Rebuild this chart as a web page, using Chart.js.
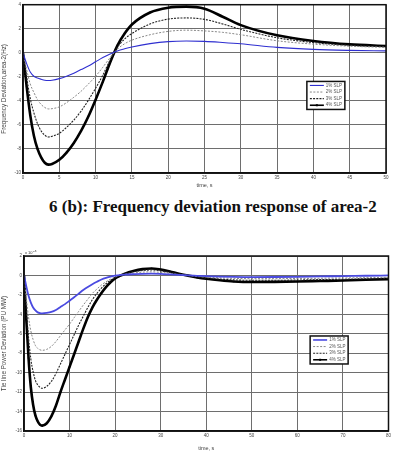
<!DOCTYPE html>
<html>
<head>
<meta charset="utf-8">
<script src="https://cdn.jsdelivr.net/npm/chart.js@4"></script>
<style>
  html, body { margin: 0; padding: 0; background: #fff; }
  body { width: 393px; height: 453px; position: relative; overflow: hidden; }
  .box { position: absolute; left: 0; width: 393px; }
  #caption { position: absolute; left: 49px; top: 197px; font: bold 17px "Liberation Serif", serif; color: #111; white-space: nowrap; }
</style>
</head>
<body>
<div class="box" style="top:0;height:190px"><canvas id="grafico1"></canvas></div>
<div id="caption">6 (b): Frequency deviation response of area-2</div>
<div class="box" style="top:250px;height:203px"><canvas id="grafico2"></canvas></div>
<script>
// Figure 6(b) – frequency deviation of area-2
const tTop = [0, 0.5, 1, 1.5, 2, 2.5, 3, 3.5, 4, 5, 6, 7, 8, 9, 10, 11, 12, 13, 14, 15, 17.5, 20, 22.5, 25, 27.5, 30, 35, 40, 45, 50];
const freq1 = [0, -0.9, -1.6, -1.95, -2.1, -2.2, -2.28, -2.3, -2.28, -2.15, -1.95, -1.7, -1.4, -1.1, -0.75, -0.4, -0.1, 0.15, 0.33, 0.48, 0.76, 0.93, 0.98, 0.95, 0.86, 0.75, 0.45, 0.28, 0.2, 0.16];
const freq2 = [0, -1.4, -2.6, -3.3, -3.9, -4.3, -4.55, -4.67, -4.65, -4.5, -4.15, -3.7, -3.2, -2.6, -1.95, -1.2, -0.4, 0.3, 0.75, 1.05, 1.5, 1.78, 1.88, 1.82, 1.7, 1.5, 1.0, 0.72, 0.55, 0.45];
const freq3 = [0, -2.0, -3.8, -5.0, -5.9, -6.5, -6.85, -7.0, -6.95, -6.7, -6.2, -5.6, -4.85, -3.95, -2.95, -1.85, -0.6, 0.45, 1.15, 1.6, 2.4, 2.8, 2.9, 2.78, 2.4, 1.95, 1.25, 0.85, 0.62, 0.5];
const freq4 = [0, -2.8, -5.2, -6.9, -8.0, -8.7, -9.15, -9.3, -9.25, -8.9, -8.3, -7.5, -6.5, -5.3, -3.9, -2.4, -0.8, 0.6, 1.6, 2.35, 3.35, 3.75, 3.84, 3.67, 3.0, 2.3, 1.45, 0.98, 0.7, 0.57];
const xTicksTop = [0, 5, 10, 15, 20, 25, 30, 35, 40, 45, 50];
const yTicksTop = [4, 2, 0, -2, -4, -6, -8, -10];

// Tie line power deviation (x 10^-3)
const tBot = [0, 0.5, 1, 1.5, 2, 2.5, 3, 3.5, 4, 5, 6, 7, 8, 9, 10, 11, 12, 13, 14, 15, 16, 17, 18, 19, 20, 21, 22, 24, 26, 28, 30, 32, 34, 36, 38, 40, 43, 46, 50, 55, 60, 65, 70, 75, 80];
const tie1 = [0, -1.1, -2.1, -2.8, -3.3, -3.6, -3.8, -3.88, -3.9, -3.85, -3.75, -3.55, -3.25, -2.95, -2.6, -2.25, -1.87, -1.5, -1.18, -0.9, -0.65, -0.42, -0.25, -0.12, -0.03, 0.04, 0.08, 0.13, 0.17, 0.18, 0.16, 0.11, 0.05, 0.0, -0.04, -0.08, -0.12, -0.15, -0.17, -0.16, -0.14, -0.1, -0.07, -0.03, 0.0];
const tie2 = [0, -2.3, -4.3, -5.7, -6.6, -7.2, -7.5, -7.65, -7.7, -7.6, -7.3, -6.8, -6.2, -5.6, -5.0, -4.35, -3.7, -3.05, -2.45, -1.85, -1.4, -0.98, -0.65, -0.38, -0.17, 0.0, 0.1, 0.25, 0.34, 0.37, 0.32, 0.22, 0.1, 0.0, -0.1, -0.17, -0.25, -0.3, -0.33, -0.33, -0.31, -0.29, -0.26, -0.23, -0.19];
const tie3 = [0, -3.4, -6.4, -8.6, -9.9, -10.8, -11.25, -11.5, -11.6, -11.4, -10.9, -10.1, -9.1, -8.1, -7.1, -6.1, -5.1, -4.2, -3.3, -2.5, -1.85, -1.3, -0.85, -0.5, -0.2, 0.0, 0.15, 0.38, 0.52, 0.56, 0.48, 0.32, 0.14, 0.0, -0.15, -0.26, -0.38, -0.46, -0.5, -0.5, -0.47, -0.43, -0.39, -0.34, -0.29];
const tie4 = [0, -4.5, -8.5, -11.5, -13.3, -14.4, -15.0, -15.35, -15.45, -15.2, -14.5, -13.4, -12.0, -10.7, -9.4, -8.1, -6.8, -5.5, -4.3, -3.3, -2.5, -1.8, -1.2, -0.7, -0.3, -0.05, 0.15, 0.45, 0.65, 0.72, 0.6, 0.4, 0.18, -0.02, -0.2, -0.34, -0.5, -0.62, -0.68, -0.66, -0.62, -0.57, -0.52, -0.45, -0.38];
const xTicksBot = [0, 10, 20, 30, 40, 50, 60, 70, 80];
const yTicksBot = [2, 0, -2, -4, -6, -8, -10, -12, -14, -16];

const labels = ['1% SLP', '2% SLP', '3% SLP', '4% SLP'];

function pts(t, v) { return t.map((x, i) => ({ x: x, y: v[i] })); }

function sets(t, s, thick) {
  return [
    { label: labels[0], data: pts(t, s[0]), borderColor: thick ? '#4a4ae0' : '#2f2fd0', borderWidth: thick ? 1.8 : 1.1, pointRadius: 0 },
    { label: labels[1], data: pts(t, s[1]), borderColor: '#888', borderWidth: 1, borderDash: [2, 1.5], pointRadius: 0 },
    { label: labels[2], data: pts(t, s[2]), borderColor: '#222', borderWidth: 1.1, borderDash: [2, 1.2], pointRadius: 0 },
    { label: labels[3], data: pts(t, s[3]), borderColor: '#000', borderWidth: 2.6, pointRadius: 1.1, pointStyle: 'rect', pointBackgroundColor: '#000', pointBorderWidth: 0 }
  ];
}

// legend box drawn inside the plot, like the MATLAB figure
const innerLegend = {
  id: 'innerLegend',
  afterDraw(chart, args, o) {
    const c = chart.ctx, a = chart.chartArea;
    const x = a.left + o.fx * (a.right - a.left), y = a.top + o.fy * (a.bottom - a.top);
    const w = 38, h = 28;
    c.save();
    c.fillStyle = '#fff';
    c.fillRect(x, y, w, h);
    c.strokeStyle = '#111';
    c.lineWidth = 1.5;
    c.strokeRect(x, y, w, h);
    c.font = '4.5px Arial, "Liberation Sans"';
    c.textBaseline = 'middle';
    chart.data.datasets.forEach((d, i) => {
      const yy = y + 4 + i * 6.6;
      c.strokeStyle = d.borderColor;
      c.lineWidth = Math.min(d.borderWidth, 1.6);
      c.setLineDash(d.borderDash || []);
      c.beginPath(); c.moveTo(x + 3, yy); c.lineTo(x + 17, yy); c.stroke();
      c.setLineDash([]);
      if (d.pointRadius) { c.fillStyle = '#000'; c.fillRect(x + 9, yy - 1, 2, 2); }
      c.fillStyle = '#555';
      c.fillText(d.label, x + 19, yy);
    });
    if (o.exp) {
      c.fillStyle = '#333';
      c.font = '4px Arial, "Liberation Sans"';
      c.textBaseline = 'alphabetic';
      c.fillText('x 10', a.left + 1, a.top - 2);
      c.fillText('-3', a.left + 9, a.top - 4.5);
    }
    c.restore();
  }
};

function makeChart(id, t, s, xt, yt, xmax, ymin, ymax, ytitle, box, thick) {
  return new Chart(document.getElementById(id), {
    type: 'line',
    data: { datasets: sets(t, s, thick) },
    plugins: [innerLegend],
    options: {
      responsive: true,
      maintainAspectRatio: false,
      animation: false,
      layout: { padding: { top: box.top, right: box.right, left: 0, bottom: 0 } },
      plugins: { legend: { display: false }, tooltip: { enabled: false }, innerLegend: { fx: box.fx, fy: box.fy, exp: box.exp } },
      elements: { line: { cubicInterpolationMode: 'monotone' } },
      scales: {
        x: {
          type: 'linear', min: 0, max: xmax,
          afterBuildTicks: sc => { sc.ticks = xt.map(v => ({ value: v })); },
          afterFit: sc => { sc.height = box.xh; },
          grid: { color: '#6e6e6e', lineWidth: 1, drawTicks: false },
          border: { color: '#111', width: 1.5 },
          ticks: { font: { size: 4.5 }, color: '#444', padding: 2, maxRotation: 0 },
          title: { display: true, text: 'time, s', font: { size: 5.5 }, color: '#444', padding: { top: 1, bottom: 1 } }
        },
        y: {
          min: ymin, max: ymax,
          afterBuildTicks: sc => { sc.ticks = yt.map(v => ({ value: v })); },
          afterFit: sc => { sc.width = box.yw; },
          grid: { color: '#6e6e6e', lineWidth: 1, drawTicks: false },
          border: { color: '#111', width: 1.5 },
          ticks: { font: { size: 4.5 }, color: '#444', padding: 2 },
          title: { display: true, text: ytitle, font: { size: 6.3 }, color: '#444', padding: 0 }
        }
      }
    }
  });
}

// right/top border of the frame
const frame = {
  id: 'frame',
  afterDraw(chart) {
    const c = chart.ctx, a = chart.chartArea;
    c.save(); c.strokeStyle = '#111'; c.lineWidth = 1.5;
    c.strokeRect(a.left, a.top, a.right - a.left, a.bottom - a.top);
    c.restore();
  }
};
Chart.register(frame);

makeChart('grafico1', tTop, [freq1, freq2, freq3, freq4], xTicksTop, yTicksTop, 50, -10, 4,
  'Frequency Deviation,area-2(Hz)', { top: 2, right: 7, xh: 17, yw: 23, fx: 0.782, fy: 0.456, exp: false }, false);

makeChart('grafico2', tBot, [tie1, tie2, tie3, tie4], xTicksBot, yTicksBot, 80, -16, 2,
  'Tie line Power Deviation (PU MW)', { top: 6, right: 1, xh: 22, yw: 24, fx: 0.785, fy: 0.457, exp: true }, true);
</script>
</body>
</html>
